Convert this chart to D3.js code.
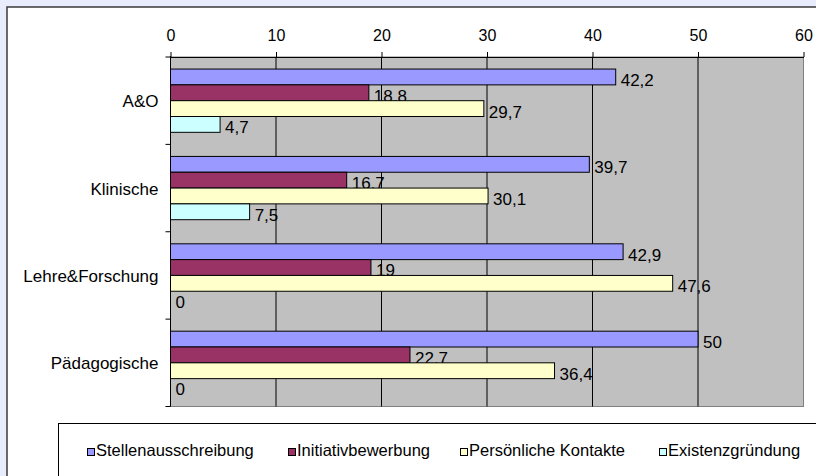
<!DOCTYPE html>
<html>
<head>
<meta charset="utf-8">
<script src="https://cdn.jsdelivr.net/npm/d3@7"></script>
<style>
  html, body { margin: 0; padding: 0; background: #e8ecfc; }
  svg { display: block; font-family: 'Liberation Sans', Arial, sans-serif; }
</style>
</head>
<body>
<svg id="chart"></svg>
<script>
'use strict';

// data
var categories = ['A&O', 'Klinische', 'Lehre&Forschung', 'Pädagogische'];
var seriesNames = ['Stellenausschreibung', 'Initiativbewerbung', 'Persönliche Kontakte', 'Existenzgründung'];
var stellen    = [42.2, 39.7, 42.9, 50];
var initiativ  = [18.8, 16.7, 19, 22.7];
var kontakte   = [29.7, 30.1, 47.6, 36.4];
var existenz   = [4.7, 7.5, 0, 0];
var xTicks = [0, 10, 20, 30, 40, 50, 60];

var colors = ['#9999ff', '#993366', '#ffffcc', '#ccffff'];
var seriesValues = [stellen, initiativ, kontakte, existenz];

// chart size
var W = 816, H = 476;
var plot = { left: 170.5, top: 57, right: 803.5, bottom: 406.5 };

var svg = d3.select('#chart').attr('width', W).attr('height', H);

// background + panel
svg.append('rect').attr('width', W).attr('height', H).attr('fill', '#e8ecfc');
svg.append('rect')
  .attr('x', 7).attr('y', 7).attr('width', W + 20).attr('height', H + 20)
  .attr('fill', '#ffffff').attr('stroke', '#3a3a3a').attr('stroke-width', 1.5);

// scales
var x = d3.scaleLinear().domain([0, 60]).range([plot.left, plot.right]);
var y = d3.scaleBand().domain(categories).range([plot.top, plot.bottom])
  .paddingInner(0.276).paddingOuter(0.138);
var ySub = d3.scaleBand().domain(d3.range(seriesNames.length)).range([0, y.bandwidth()]);

// plot area
svg.append('rect')
  .attr('x', plot.left).attr('y', plot.top)
  .attr('width', plot.right - plot.left).attr('height', plot.bottom - plot.top)
  .attr('fill', '#c0c0c0').attr('stroke', '#808080').attr('stroke-width', 1);

// gridlines
svg.append('g').selectAll('line').data(xTicks.slice(1, -1)).join('line')
  .attr('x1', function(d){ return x(d); }).attr('x2', function(d){ return x(d); })
  .attr('y1', plot.top).attr('y2', plot.bottom)
  .attr('stroke', '#000').attr('stroke-width', 1);

// top axis
var xAxis = svg.append('g')
  .attr('transform', 'translate(0,' + plot.top + ')')
  .call(d3.axisTop(x).tickValues(xTicks).tickSize(5).tickPadding(11).tickSizeOuter(0));
xAxis.selectAll('text').attr('font-size', 16).attr('fill', '#000')
  .style('font-family', "'Liberation Sans', Arial, sans-serif");
xAxis.selectAll('line, path').attr('stroke', '#000');

// left axis with ticks at band boundaries
var bounds = categories.map(function(c){ return y(c) - y.step() * y.paddingInner() / 2; });
bounds.push(plot.bottom);
svg.append('line')
  .attr('x1', plot.left).attr('x2', plot.left).attr('y1', plot.top - 1).attr('y2', plot.bottom)
  .attr('stroke', '#000');
svg.append('g').selectAll('line').data(bounds).join('line')
  .attr('x1', plot.left - 5).attr('x2', plot.left)
  .attr('y1', function(d){ return d; }).attr('y2', function(d){ return d; })
  .attr('stroke', '#000');

// category labels
svg.append('g').selectAll('text').data(categories).join('text')
  .attr('x', plot.left - 12)
  .attr('y', function(d){ return y(d) + y.bandwidth() / 2 + 1; })
  .attr('text-anchor', 'end').attr('dominant-baseline', 'central')
  .attr('font-size', 17).attr('fill', '#000')
  .text(function(d){ return d; });

// bars
var fmt = function(v){ return String(v).replace('.', ','); };
seriesValues.forEach(function(vals, si){
  var g = svg.append('g');
  g.selectAll('rect').data(vals).join('rect')
    .attr('x', x(0))
    .attr('y', function(d, i){ return y(categories[i]) + ySub(si); })
    .attr('width', function(d){ return x(d) - x(0); })
    .attr('height', ySub.bandwidth())
    .attr('fill', colors[si])
    .attr('stroke', function(d){ return d > 0 ? '#000' : 'none'; })
    .attr('stroke-width', 1);
  g.selectAll('text').data(vals).join('text')
    .attr('x', function(d){ return x(d) + 5; })
    .attr('y', function(d, i){ return y(categories[i]) + ySub(si) + ySub.bandwidth() + 1; })
    .attr('font-size', 17).attr('fill', '#000')
    .text(function(d){ return fmt(d); });
});

// legend
svg.append('rect')
  .attr('x', 58.5).attr('y', 423.5).attr('width', 800).attr('height', 100)
  .attr('fill', '#fff').attr('stroke', '#000').attr('stroke-width', 1);
var legendX = [87, 288, 460, 659];
var legend = svg.append('g').selectAll('g').data(seriesNames).join('g')
  .attr('transform', function(d, i){ return 'translate(' + legendX[i] + ',456)'; });
legend.append('rect')
  .attr('x', 0.5).attr('y', -7.5).attr('width', 7).attr('height', 7)
  .attr('fill', function(d, i){ return colors[i]; })
  .attr('stroke', '#000').attr('stroke-width', 1);
legend.append('text')
  .attr('x', 9).attr('y', 0)
  .attr('font-size', 16.5).attr('fill', '#000')
  .text(function(d){ return d; });
</script>
</body>
</html>
